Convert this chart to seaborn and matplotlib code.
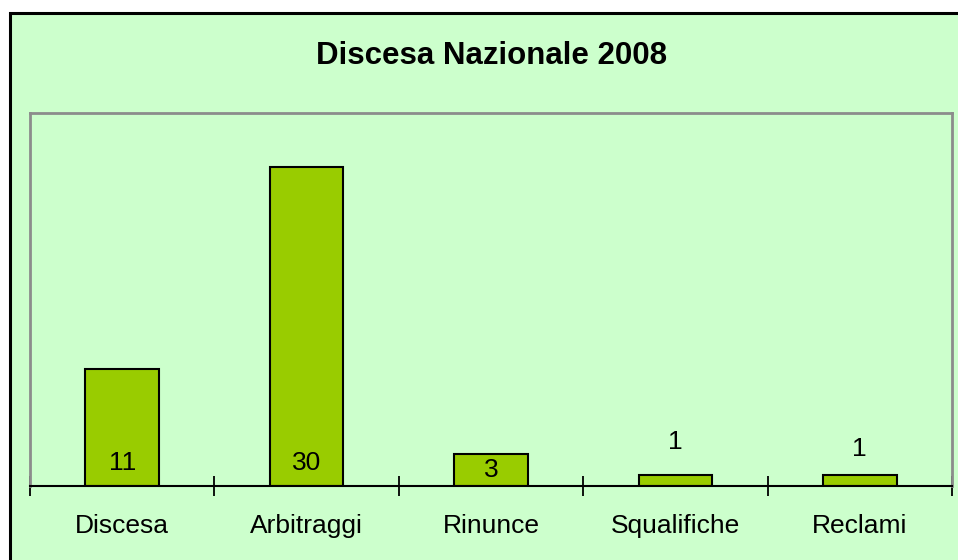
import matplotlib
matplotlib.use("Agg")
import matplotlib.pyplot as plt
import seaborn as sns
import pandas as pd
from matplotlib.patches import Rectangle

categories = ["Discesa", "Arbitraggi", "Rinunce", "Squalifiche", "Reclami"]
values = [11, 30, 3, 1, 1]
label_y = [2.2, 2.2, 1.5, 4.1, 3.5]
title = "Discesa Nazionale 2008"

sns.set_theme(style="white")
plt.rcParams['font.family'] = ['Liberation Sans', 'DejaVu Sans']

W, H = 958, 560
fig = plt.figure(figsize=(W / 100, H / 100), dpi=100)
fig.patch.set_facecolor("white")
fig.patches.append(Rectangle((10 / W, -0.05), 1.2, 1 - 13 / H + 0.05,
                             transform=fig.transFigure, facecolor="#CCFFCC",
                             edgecolor="black", linewidth=2.2, zorder=-5))

ax = fig.add_axes([30 / W, (H - 486) / H, (952 - 30) / W, (486 - 113) / H])
ax.set_zorder(2)
ax.set_facecolor("#CCFFCC")
df = pd.DataFrame({"cat": categories, "val": values})
sns.barplot(data=df, x="cat", y="val", color="#99CC00", saturation=1,
            edgecolor="black", linewidth=1.5, width=0.4, ax=ax, zorder=3)
ax.set_ylim(0, 35.1)
ax.set_xlim(-0.5, len(categories) - 0.5)
ax.set_xlabel("")
ax.set_ylabel("")
ax.set_yticks([])

for i, (v, ly) in enumerate(zip(values, label_y)):
    ax.text(i, ly, str(v), ha="center", va="center", fontsize=19,
            color="black", zorder=5)

for s in ["left", "top", "right"]:
    ax.spines[s].set_color("#8C8C8C")
    ax.spines[s].set_linewidth(2)
ax.spines["bottom"].set_color("black")
ax.spines["bottom"].set_linewidth(1.5)
ax.spines["bottom"].set_zorder(6)

ax.set_xticks(range(len(categories)))
ax.set_xticklabels(categories, fontsize=19)
ax.tick_params(axis="x", which="major", length=0, pad=20, colors="black")
ax.set_xticks([i - 0.5 for i in range(len(categories) + 1)], minor=True)
ax.tick_params(axis="x", which="minor", bottom=True, length=15, width=1.3,
               direction="inout", color="black")

fig.text(492 / W, 1 - 56 / H, title, ha="center", va="center",
         fontsize=22.5, fontweight="bold", color="black", zorder=3)

fig.savefig("out.png", dpi=100)
